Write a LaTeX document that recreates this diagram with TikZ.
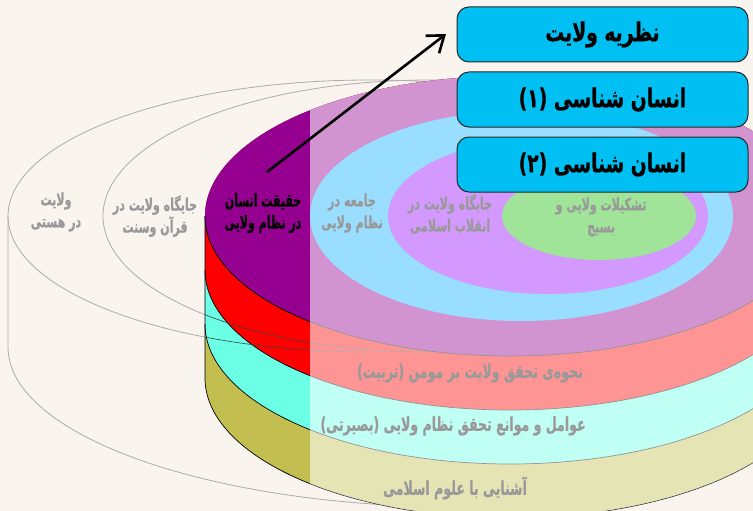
\documentclass[tikz,border=0pt]{standalone}
\usepackage{fontspec}
\usetikzlibrary{arrows.meta}
\TeXXeTstate=1
\newfontfamily\faKey[Script=Arabic,FakeStretch=0.61,FakeBold=0.7]{DejaVu Sans}
\newfontfamily\faBox[Script=Arabic,FakeStretch=0.72,FakeBold=0.6]{DejaVu Sans}
\newfontfamily\faFace[Script=Arabic,FakeStretch=0.65,FakeBold=0.6]{DejaVu Sans}
\newfontfamily\faBand[Script=Arabic,FakeStretch=0.66,FakeBold=0.6]{DejaVu Sans}
\definecolor{bg}{HTML}{FAF4EE}
\definecolor{purp}{HTML}{960090}
\definecolor{redb}{HTML}{FF0000}
\definecolor{cyanb}{HTML}{6BFFE6}
\definecolor{oliveb}{HTML}{C2BF50}
\definecolor{blueI}{HTML}{99DEFF}
\definecolor{violI}{HTML}{D399FF}
\definecolor{greenI}{HTML}{A0E49A}
\definecolor{boxc}{HTML}{00BFF2}
\definecolor{txtg}{HTML}{999999}
\definecolor{lineg}{HTML}{ABABAB}
\tikzset{
  greyline/.style={draw=lineg, line width=0.8pt},
  edgeline/.style={draw=black, line width=0.7pt},
  titlebox/.style={draw=black!85, line width=1pt, fill=boxc, rounded corners=12pt,
    minimum width=291pt, minimum height=55pt, inner sep=0pt,
    font=\faBox\bfseries\fontsize{26}{28}\selectfont, text=black},
  facetext/.style={align=center, font=\faFace\bfseries\fontsize{17}{22}\selectfont, text=txtg, inner sep=0pt},
  keytext/.style={align=center, font=\faKey\bfseries\fontsize{18}{22}\selectfont, text=black, inner sep=0pt},
  bandtext/.style={align=center, font=\faBand\bfseries\fontsize{19}{22}\selectfont, text=txtg, inner sep=0pt}
}
\def\silh#1{(205,216) arc[start angle=180,end angle=360,x radius=305,y radius=140] -- (815,#1) arc[start angle=0,end angle=180,x radius=305,y radius=140] -- cycle}
\begin{document}
\begin{tikzpicture}[x=1pt,y=-1pt]
\fill[bg] (0,0) rectangle (753,511);
\useasboundingbox (0,0) rectangle (753,511);
% outer grey cylinders
\draw[greyline] (370,216) ellipse[x radius=362, y radius=136];
\draw[greyline] (430,216) ellipse[x radius=327, y radius=136];
\draw[greyline] (8,216) -- (8,347) arc[start angle=180,end angle=90,x radius=452,y radius=160];
% coloured stack
\fill[oliveb] \silh{378};
\fill[cyanb] \silh{324};
\fill[redb] \silh{270};
\draw[edgeline] (205,270) arc[start angle=180,end angle=0,x radius=305,y radius=140];
\draw[edgeline] (205,324) arc[start angle=180,end angle=0,x radius=305,y radius=140];
\draw[edgeline] (205,216) -- (205,378) arc[start angle=180,end angle=0,x radius=305,y radius=140];
\begin{scope}
  \clip \silh{378};
  \draw[draw=black!75, line width=0.6pt] (8,216) arc[start angle=180,end angle=90,x radius=362,y radius=136];
  \draw[draw=black!75, line width=0.6pt] (103,216) arc[start angle=180,end angle=90,x radius=327,y radius=136];
\end{scope}
\fill[purp] (510,216) ellipse[x radius=305, y radius=140];
\draw[edgeline] (205,216) arc[start angle=180,end angle=0,x radius=305,y radius=140];
\begin{scope}
  \clip \silh{378};
  \fill[white, opacity=0.58] (310,0) rectangle (830,530);
\end{scope}
\fill[blueI] (521.5,216) ellipse[x radius=211.5, y radius=105];
\fill[violI] (548,216) ellipse[x radius=160, y radius=78];
\fill[greenI] (599,216) ellipse[x radius=97, y radius=44];
% texts on faces
\node[keytext] (haghighat) at (263,213) {\beginR حقیقت انسان\endR\\\beginR در نظام ولایی\endR};
\node[facetext] (jameh) at (352,213) {\beginR جامعه در\endR\\\beginR نظام ولایی\endR};
\node[facetext] (enghelab) at (450,214) {\beginR جایگاه ولایت در\endR\\\beginR انقلاب اسلامی\endR};
\node[facetext] (basij) at (601,217) {\beginR تشکیلات ولایی و\endR\\\beginR بسیج\endR};
\node[facetext] (hasti) at (56,212) {\beginR ولایت\endR\\\beginR در هستی\endR};
\node[facetext] (quran) at (155,216) {\beginR جایگاه ولایت در\endR\\\beginR قرآن وسنت\endR};
\node[bandtext] (tarbiat) at (470,373) {\beginR نحوه‌ی تحقق ولایت بر مومن (تربیت)\endR};
\node[bandtext] (basirat) at (453,426) {\beginR عوامل و موانع تحقق نظام ولایی (بصیرتی)\endR};
\node[bandtext] (oloom) at (455,488) {\beginR آشنایی با علوم اسلامی\endR};
% title boxes
\node[titlebox] (box1) at (602.5,34.5) {\beginR نظریه ولایت\endR};
\node[titlebox] (box2) at (602.5,99.5) {\beginR انسان شناسی (۱)\endR};
\node[titlebox] (box3) at (602.5,164.5) {\beginR انسان شناسی (۲)\endR};
% arrow
\coordinate (astart) at (267,172);
\coordinate (atip) at (446,34);
\draw[line width=2.6pt, -{Straight Barb[length=15pt,width=22pt,line width=2.6pt]}] (astart) -- (atip);
\end{tikzpicture}
\end{document}
